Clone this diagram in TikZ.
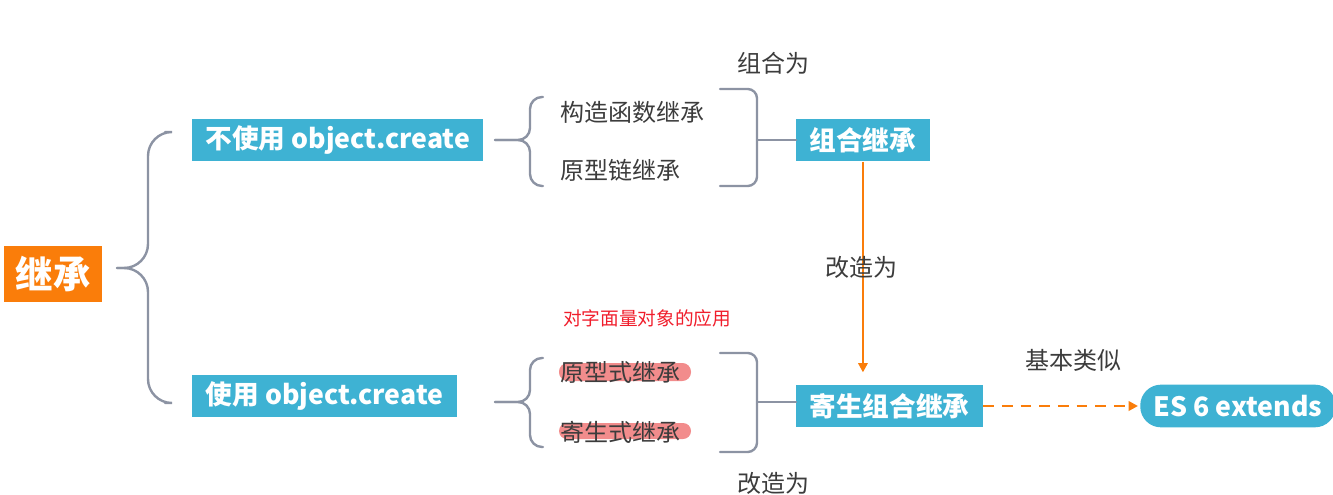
\documentclass[tikz,border=0pt]{standalone}
\usepackage{fontspec}
\setmainfont{Noto Sans CJK SC}
\usetikzlibrary{arrows.meta}
\definecolor{boxblue}{RGB}{62,178,211}
\definecolor{mainorange}{RGB}{250,125,10}
\definecolor{bracegray}{RGB}{140,147,163}
\definecolor{labelgray}{RGB}{60,60,60}
\definecolor{notered}{RGB}{240,30,44}
\definecolor{hilite}{RGB}{242,140,140}
\tikzset{
  bluebox/.style={fill=boxblue, text=white, font=\fontsize{20}{24}\selectfont\bfseries,
    inner xsep=10pt, inner ysep=0pt, minimum height=32pt},
  rootbox/.style={fill=mainorange, text=white, font=\fontsize{28}{32}\selectfont\bfseries,
    minimum width=73.5pt, minimum height=42pt, inner sep=0pt},
  item/.style={text=labelgray, font=\fontsize{18}{22}\selectfont, inner sep=0pt},
  note/.style={text=labelgray, font=\fontsize{18}{22}\selectfont},
  brace/.style={draw=bracegray, line width=1.8pt, line cap=round},
  orangearrow/.style={draw=mainorange, line width=1.8pt, -{Triangle[length=7pt,width=7pt]}},
}
\begin{document}
\begin{tikzpicture}[x=0.75pt, y=-0.75pt]
    \useasboundingbox (0,0) rectangle (1333,495);

    % Radice
    \node[rootbox] (jc) at (53,274) {继承};

    % Rami principali
    \node[bluebox, anchor=west] (nouse) at (192,140) {不使用 object.create};
    \node[bluebox, anchor=west] (use) at (192,396) {使用 object.create};

    % Graffa grande
    \draw[brace, rounded corners=18pt] (165,132) -- (148,132) -- (148,268) -- (117,268);
    \draw[brace, rounded corners=18pt] (165,403) -- (148,403) -- (148,268) -- (117,268);

    % Graffa superiore
    \draw[brace, rounded corners=9pt] (543,97) -- (530,97) -- (530,140) -- (495,140);
    \draw[brace, rounded corners=9pt] (543,186) -- (530,186) -- (530,140) -- (495,140);
    \node[item, anchor=west] (gz) at (560,112) {构造函数继承};
    \node[item, anchor=west] (yxl) at (560,170) {原型链继承};

    % Parentesi destra superiore
    \draw[brace, rounded corners=7pt] (720,89) -- (757,89) -- (757,186) -- (720,186);
    \node[note] (lbzh) at (773,63) {组合为};
    \node[bluebox, anchor=west] (zh) at (796,140) {组合继承};
    \draw[brace] (757,140) -- (zh.west);

    % Nota in rosso
    \node[text=notered, font=\fontsize{14}{17}\selectfont] (lit) at (647,318) {对字面量对象的应用};

    % Graffa inferiore
    \draw[brace, rounded corners=9pt] (543,358) -- (530,358) -- (530,402) -- (495,402);
    \draw[brace, rounded corners=9pt] (543,447) -- (530,447) -- (530,402) -- (495,402);
    \fill[hilite, rounded corners=6.5pt] (559,363) rectangle (691,381);
    \fill[hilite, rounded corners=6pt] (559,423) rectangle (691,439);
    \node[item, anchor=west] (yxs) at (560,372) {原型式继承};
    \node[item, anchor=west] (jss) at (560,432) {寄生式继承};

    % Parentesi destra inferiore
    \draw[brace, rounded corners=7pt] (720,353) -- (757,353) -- (757,452) -- (720,452);
    \node[note] (lbgz) at (773,483) {改造为};
    \node[bluebox, anchor=west] (jszh) at (796,406) {寄生组合继承};
    \draw[brace] (757,402) -- (757,402 -| jszh.west);

    % Freccia verticale
    \draw[orangearrow, shorten >=9pt] (zh.south) -- (zh.south |- jszh.north);
    \node[note] (lbgz2) at (861,267) {改造为};

    % ES 6
    \node[bluebox, rounded corners=15.5pt, anchor=west] (es6) at (1140,406) {ES 6 extends};
    \draw[orangearrow, dash pattern=on 8pt off 6pt, shorten >=1.5pt] (jszh.east) -- (es6.west);
    \node[note] (lbjb) at (1073,360) {基本类似};
\end{tikzpicture}
\end{document}
